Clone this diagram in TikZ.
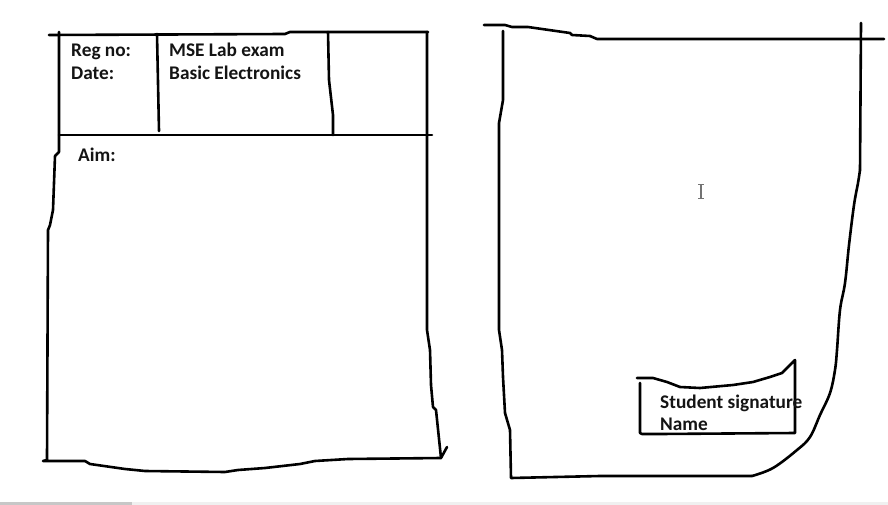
\documentclass[tikz,border=0pt]{standalone}
\usepackage{fontspec}
\setmainfont{Carlito}
\begin{document}
\begin{tikzpicture}[x=1pt,y=-1pt,
  pen/.style={line width=2.6pt,line join=round,line cap=round,black},
  lbl/.style={anchor=base west,inner sep=0pt,font=\fontsize{19.3}{21}\selectfont\bfseries,text=black!92}]
\useasboundingbox (0,0) rectangle (888,505);
\fill[white] (0,0) rectangle (888,505);
% bottom bar
\fill[black!6] (0,502) rectangle (888,505);
\fill[black!22] (0,502) rectangle (132,505);
% ---------- left form ----------
\draw[pen] (49,35) -- (285,34) -- (290,32) -- (428,32);
\draw[pen] (59,32) -- (59,152) -- (55,156) -- (53,210) -- (50,225) -- (48,230) -- (47,460) -- (43,461)
  -- (85,461) -- (90,464) -- (125,469) -- (145,471) -- (225,472) -- (238,470) -- (265,468)
  -- (300,464) -- (315,461) -- (348,459) -- (441,458) -- (447,447);
\draw[pen] (427,32) -- (427,330) -- (430,350) -- (431,385) -- (433,407) -- (436,410) -- (441,458);
\draw[pen] (59,135) -- (432,135);
\draw[pen] (157,34) -- (159,131);
\draw[pen] (328,32) -- (329,80) -- (333,115) -- (333,135);
\node[lbl] (reg) at (71,57) {Reg no:};
\node[lbl] (date) at (71,80) {Date:};
\node[lbl] (mse) at (169,57) {MSE Lab exam};
\node[lbl] (be) at (169,80) {Basic Electronics};
\node[lbl] (aim) at (78,162) {Aim:};
% ---------- right form ----------
\draw[pen] (484,25) -- (505,25) -- (512,27) -- (528,27) -- (570,33) -- (572,35) -- (590,36) -- (597,39) -- (884,39);
\draw[pen] (503,31) -- (503,100) -- (499,123) -- (499,330) -- (502,350) -- (503,377) -- (505,413) -- (510,430) -- (511,478)
  -- (600,476) -- (752,476);
\draw[pen] plot[smooth,tension=0.6] coordinates {(752,476) (773,468) (797,450) (810,437) (820,415) (830,393) (835,370) (837,350) (840,310) (845,283) (849,245) (854,205) (858,183) (860,170)};
\draw[pen] (860,170) -- (861,23);
% signature box
\draw[pen] (637,378) -- (653,378) -- (667,382) -- (680,387) -- (700,388) -- (733,385) -- (753,382)
  -- (770,377) -- (782,373) -- (795,360) -- (795,433) -- (660,434) -- (642,434) -- (640,433) -- (640,383);
\node[lbl] (sig) at (660,408) {Student signature};
\node[lbl] (name) at (660,430) {Name};
% text cursor
\draw[black!55,line width=1.2pt] (701,185) -- (701,198);
\draw[black!55,line width=1pt] (698,185) -- (704,185) (698,198) -- (704,198);
\end{tikzpicture}
\end{document}
